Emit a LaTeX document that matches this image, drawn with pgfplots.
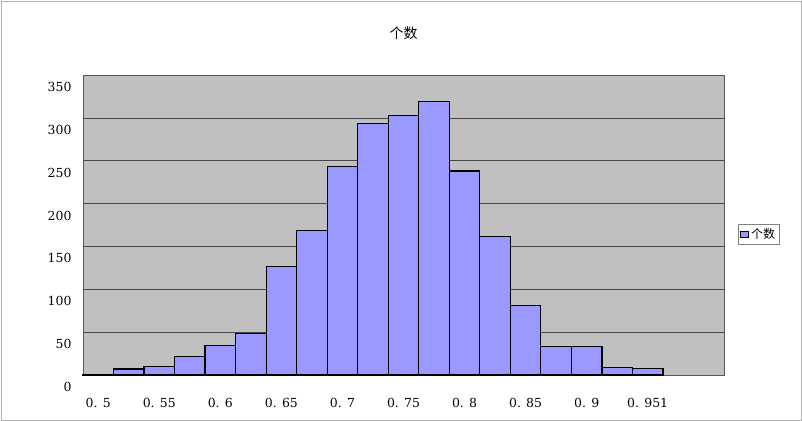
\documentclass[border=0pt]{standalone}
\usepackage{pgfplots}
\pgfplotsset{compat=1.18}
\usepackage{fontspec}
\setmainfont{DejaVu Serif}
\newfontfamily\cjk{Noto Sans CJK SC}
\definecolor{bg}{RGB}{192,192,192}
\definecolor{bar}{RGB}{153,153,255}
\begin{document}
\begin{tikzpicture}
\begin{axis}[
  scale only axis, width=641bp, height=300bp,
  axis background/.style={fill=bg},
  axis line style={gray!70!black},
  xmin=-0.5, xmax=20.5, ymin=0, ymax=350,
  ytick={0,50,...,350}, ymajorgrids, grid style={gray!55!black, line width=0.6pt},
  major tick length=0pt,
  yticklabel style={yshift=-12bp, xshift=-8bp, font=\fontsize{12.5}{15}\selectfont},
  /pgf/number format/assume math mode=true,
  xtick={0,2,...,18},
  xticklabels={0. 5,0. 55,0. 6,0. 65,0. 7,0. 75,0. 8,0. 85,0. 9,0. 951},
  xticklabel style={yshift=-20bp, font=\fontsize{12.5}{15}\selectfont},
  title={\cjk 个数}, title style={yshift=26bp, font=\fontsize{14}{16}\selectfont},
  legend style={at={(1.022,0.47)}, anchor=west, draw=gray, font=\cjk\fontsize{12}{14}\selectfont, inner sep=2pt, row sep=0pt},
  legend image code/.code={\draw[fill=bar, draw=black, line width=0.9pt] (0bp,-3bp) rectangle (8bp,3bp);},
  clip=false,
]
\addplot[ybar interval, fill=bar, draw=black, line width=1.2pt] coordinates {
(-0.5,1) (0.5,7) (1.5,10) (2.5,22) (3.5,34) (4.5,48) (5.5,127) (6.5,169) (7.5,243) (8.5,293)
(9.5,303) (10.5,319) (11.5,238) (12.5,162) (13.5,81) (14.5,33) (15.5,33) (16.5,9) (17.5,8) (18.5,0)};
\addlegendentry{个数}
\end{axis}
\path[use as bounding box] ([xshift=-83bp,yshift=-46bp]current axis.south west) rectangle ++(802bp,421bp);
\draw[gray!60] ([xshift=-82bp,yshift=-45bp]current axis.south west) rectangle ++(800bp,419bp);
\end{tikzpicture}
\end{document}
